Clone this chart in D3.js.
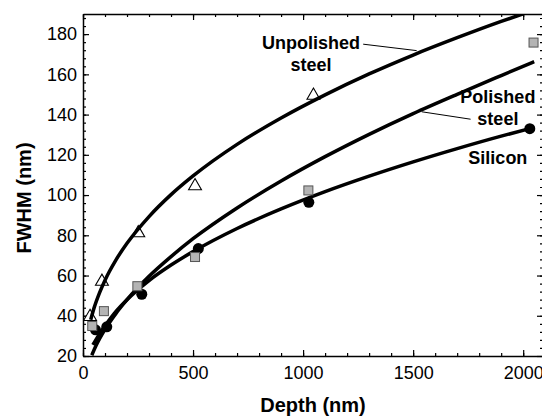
<!DOCTYPE html>
<html>
<head>
<meta charset="utf-8">
<script src="https://cdn.jsdelivr.net/npm/d3@7"></script>
<style>
  body { margin: 0; background: #fff; }
  svg { display: block; font-family: "Liberation Sans", Arial, sans-serif; }
</style>
</head>
<body>
<div id="chart"></div>
<script>
// axis ticks
const depthTicks = [0, 500, 1000, 1500, 2000];
const fwhmTicks = [20, 40, 60, 80, 100, 120, 140, 160, 180];

// measured points
const unpolishedDepth = [32, 86, 251, 509, 1047];
const unpolishedFwhm = [40, 57.5, 81.6, 105, 150];
const polishedDepth = [42, 95, 247, 509, 1024, 2047];
const polishedFwhm = [34.9, 42.3, 54.7, 69.2, 102.3, 175.8];
const siliconDepth = [57, 108, 267, 524, 1026, 2030];
const siliconFwhm = [33, 34.5, 50.7, 73.4, 96.4, 133];

// fit curves
const unpolishedFitDepth = [35, 50, 75, 100, 150, 200, 300, 400, 500, 700, 900, 1100, 1300, 1500, 1700, 1900, 2000];
const unpolishedFitFwhm = [38, 43.8, 51.4, 57.7, 67.8, 76, 89.3, 100.2, 109.5, 125.2, 138.3, 149.8, 160.2, 169.6, 178.2, 186.3, 190.1];
const polishedFitDepth = [40, 60, 100, 150, 200, 300, 400, 500, 700, 900, 1100, 1300, 1500, 1700, 1900, 2050];
const polishedFitFwhm = [20.4, 25.3, 33.2, 41.2, 48, 59.6, 69.4, 78.3, 93.6, 107, 119.1, 130.2, 140.5, 150.1, 159.4, 166.3];
const siliconFitDepth = [45, 75, 100, 150, 200, 300, 400, 500, 700, 900, 1100, 1300, 1500, 1700, 1900, 2029];
const siliconFitFwhm = [25.5, 31, 35, 42.2, 48, 57.5, 65.2, 71.9, 83.4, 93.1, 101.7, 109.4, 116.5, 123.1, 129.3, 133];

// curve labels (data coords) and leader lines
const labelText = [["Unpolished", "steel"], ["Polished", "steel"], ["Silicon"]];
const labelDepth = [1036, 1885, 1885];
const labelFwhm = [172.6, 145.7, 115.6];
const leaderDepth = [[1273, 1516], [1761, 1539]];
const leaderFwhm = [[175, 171.8], [137.7, 141.4]];

const width = 542, height = 416;
const plotLeft = 83, plotRight = 543, plotTop = 14, plotBottom = 356;

const svg = d3.select("#chart").append("svg")
  .attr("width", width)
  .attr("height", height);

const x = d3.scaleLinear().domain([0, 2090]).range([plotLeft, plotRight]);
const y = d3.scaleLinear().domain([20, 190]).range([plotBottom, plotTop]);

svg.append("defs").append("clipPath").attr("id", "plot")
  .append("rect")
  .attr("x", plotLeft).attr("y", plotTop)
  .attr("width", plotRight - plotLeft).attr("height", plotBottom - plotTop);

// axes, ticks pointing inward on all four sides
function drawAxis(axisFn, scale, pos, major, minor, labels, pad) {
  const g = svg.append("g").attr("transform", pos);
  g.call(axisFn(scale).tickValues(minor).tickSize(-3).tickFormat(""));
  g.select(".domain").remove();
  const gm = svg.append("g").attr("transform", pos)
    .call(axisFn(scale).tickValues(major).tickSizeInner(-6).tickSizeOuter(0)
      .tickPadding(pad).tickFormat(labels ? d3.format("d") : ""));
  gm.select(".domain").attr("stroke-width", 1.5);
  svg.selectAll(".tick line").attr("stroke-width", 1.2);
  gm.selectAll("text").style("font-size", "18px").attr("fill", "#000");
  return gm;
}

drawAxis(d3.axisBottom, x, `translate(0,${plotBottom})`, depthTicks, d3.range(0, 2090, 100), true, 10);
drawAxis(d3.axisTop, x, `translate(0,${plotTop})`, depthTicks, d3.range(0, 2090, 100), false, 7);
drawAxis(d3.axisLeft, y, `translate(${plotLeft},0)`, fwhmTicks, d3.range(20, 191, 4), true, 6);
drawAxis(d3.axisRight, y, `translate(${plotRight},0)`, fwhmTicks, d3.range(20, 191, 4), false, 7);

svg.append("text")
  .attr("x", (plotLeft + plotRight) / 2)
  .attr("y", 412)
  .attr("text-anchor", "middle")
  .style("font-size", "20px")
  .style("font-weight", "bold")
  .text("Depth (nm)");

svg.append("text")
  .attr("transform", `translate(31,198) rotate(-90)`)
  .attr("text-anchor", "middle")
  .style("font-size", "20px")
  .style("font-weight", "bold")
  .text("FWHM (nm)");

const plot = svg.append("g").attr("clip-path", "url(#plot)");

// open triangles first, curves go over them
const tri = d3.symbol().type(d3.symbolTriangle).size(72);
plot.selectAll(".tri")
  .data(unpolishedDepth.map((d, i) => [d, unpolishedFwhm[i]]))
  .join("path")
  .attr("class", "tri")
  .attr("d", tri)
  .attr("transform", d => `translate(${x(d[0])},${y(d[1]) + 1})`)
  .attr("fill", "#fff")
  .attr("stroke", "#000")
  .attr("stroke-width", 1.1);

const line = d3.line()
  .x(d => x(d[0]))
  .y(d => y(d[1]))
  .curve(d3.curveMonotoneX);

[[unpolishedFitDepth, unpolishedFitFwhm], [polishedFitDepth, polishedFitFwhm], [siliconFitDepth, siliconFitFwhm]]
  .forEach(([xs, ys]) => {
    plot.append("path")
      .datum(xs.map((d, i) => [d, ys[i]]))
      .attr("d", line)
      .attr("fill", "none")
      .attr("stroke", "#000")
      .attr("stroke-width", 3.5);
  });

plot.selectAll(".dot")
  .data(siliconDepth.map((d, i) => [d, siliconFwhm[i]]))
  .join("circle")
  .attr("class", "dot")
  .attr("cx", d => x(d[0]))
  .attr("cy", d => y(d[1]))
  .attr("r", 5.5)
  .attr("fill", "#000");

plot.selectAll(".sq")
  .data(polishedDepth.map((d, i) => [d, polishedFwhm[i]]))
  .join("rect")
  .attr("class", "sq")
  .attr("x", d => x(d[0]) - 4.5)
  .attr("y", d => y(d[1]) - 4.5)
  .attr("width", 9)
  .attr("height", 9)
  .attr("fill", "#b4b4b4")
  .attr("stroke", "#555")
  .attr("stroke-width", 1);

// leader lines
leaderDepth.forEach((xs, i) => {
  svg.append("line")
    .attr("x1", x(xs[0])).attr("y1", y(leaderFwhm[i][0]))
    .attr("x2", x(xs[1])).attr("y2", y(leaderFwhm[i][1]))
    .attr("stroke", "#000")
    .attr("stroke-width", 1);
});

labelText.forEach((lines, i) => {
  const t = svg.append("text")
    .attr("x", x(labelDepth[i]))
    .attr("y", y(labelFwhm[i]))
    .attr("text-anchor", "middle")
    .style("font-size", "18px")
    .style("font-weight", "bold");
  lines.forEach((s, j) => {
    t.append("tspan")
      .attr("x", x(labelDepth[i]))
      .attr("dy", j === 0 ? 0 : 22)
      .text(s);
  });
});
</script>
</body>
</html>
